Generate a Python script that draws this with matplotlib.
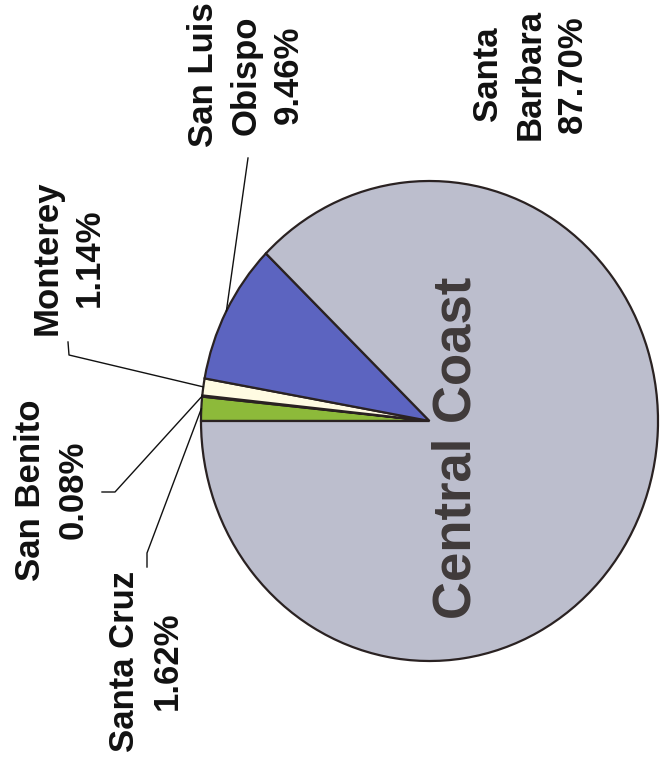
import numpy as np
import matplotlib
matplotlib.use("Agg")
import matplotlib.pyplot as plt

plt.rcParams['font.family'] = ['Liberation Sans', 'DejaVu Sans']

# county shares of the Central Coast total (%)
counties = ['Santa Cruz', 'San Benito', 'Monterey', 'San Luis\nObispo', 'Santa\nBarbara']
shares = [1.62, 0.08, 1.14, 9.46, 87.70]
colors = ['#8dba3a', '#f4f0d0', '#fffbe2', '#5c64c0', '#bcbecd']

# label placement (pixels, figure is 666x759) and leader-line elbows
label_pos = [(146, 661), (52, 490), (68, 258), (246, 75), (530, 74)]
elbows = [[(147, 567), (147, 553)],
          [(102, 492), (115, 492)],
          [(68, 342), (69, 355)],
          [(248, 158)],
          []]

W, H = 666, 759
fig = plt.figure(figsize=(W / 100, H / 100), dpi=100)
fig.patch.set_facecolor('white')

# pie axes (slightly taller than wide, like the scan)
ax = fig.add_axes([201 / W, 1 - 661 / H, 457 / W, 480 / H])
wedges, _ = ax.pie(shares, colors=colors, startangle=180, counterclock=False,
                   radius=1.0,
                   wedgeprops=dict(edgecolor='#2a2222', linewidth=1.6))
ax.set_aspect('auto')
ax.set_xlim(-1, 1)
ax.set_ylim(-1, 1)
ax.axis('off')

ax.text(0.12, -0.11, 'Central Coast', rotation=90, ha='center', va='center',
        fontsize=38, fontweight='bold', color='#403a3a')

# overlay in pixel coordinates for labels and leaders
ov = fig.add_axes([0, 0, 1, 1])
ov.set_xlim(0, W)
ov.set_ylim(H, 0)
ov.axis('off')

inv = ov.transData.inverted()
for w, name, v, pos, elb in zip(wedges, counties, shares, label_pos, elbows):
    ov.text(pos[0], pos[1], f'{name}\n{v:.2f}%', rotation=90,
            ha='center', va='center', multialignment='center',
            fontsize=25, fontweight='bold', linespacing=1.35, color='#111111')
    if elb:
        mid = np.deg2rad((w.theta1 + w.theta2) / 2)
        edge = inv.transform(ax.transData.transform((np.cos(mid), np.sin(mid))))
        pts = [tuple(edge)] + elb[::-1]
        xs, ys = zip(*pts)
        ov.plot(xs, ys, color='#111111', lw=1.0)

fig.savefig('out.png', dpi=100)
